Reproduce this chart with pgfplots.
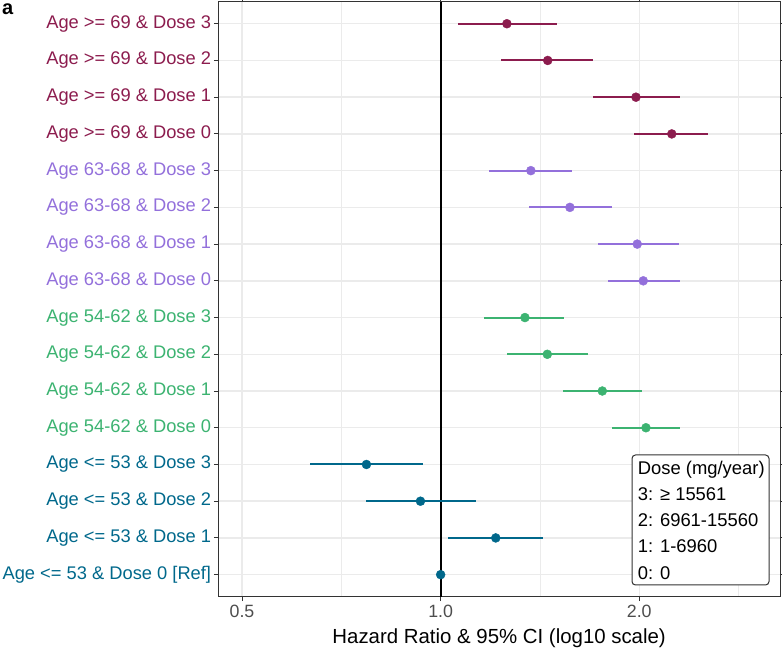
\documentclass[border=0pt]{standalone}
\usepackage{pgfplots}
\usepackage{pgfplotstable}
\usepackage{fontspec}
\setmainfont{Liberation Sans}
\pgfplotsset{compat=1.18}

\definecolor{cmaroon}{HTML}{8C1C4E}
\definecolor{cpurple}{HTML}{9370DB}
\definecolor{cgreen}{HTML}{3CB371}
\definecolor{cblue}{HTML}{00688B}
\definecolor{grid92}{HTML}{EBEBEB}
\definecolor{grey20}{HTML}{333333}
\definecolor{grey30}{HTML}{4D4D4D}

% y = row, hr = hazard ratio, lo/hi = 95% CI
\pgfplotstableread{
y hr lo hi
1 1.000 1.000 1.000
2 1.212 1.025 1.431
3 0.932 0.772 1.131
4 0.772 0.634 0.941
}\tblue
\pgfplotstableread{
y hr lo hi
5 2.047 1.820 2.308
6 1.758 1.532 2.017
7 1.451 1.262 1.670
8 1.342 1.162 1.539
}\tgreen
\pgfplotstableread{
y hr lo hi
9  2.028 1.791 2.308
10 1.986 1.732 2.295
11 1.570 1.362 1.818
12 1.370 1.184 1.580
}\tpurple
\pgfplotstableread{
y hr lo hi
13 2.240 1.961 2.545
14 1.977 1.702 2.308
15 1.453 1.233 1.700
16 1.260 1.063 1.499
}\tmaroon

\pgfplotsset{
  ci/.style={draw=none, mark=none, forget plot,
    error bars/.cd, x dir=both, x explicit, error mark=none,
    error bar style={line width=2bp, color=#1}},
  pt/.style={only marks, mark=*, mark size=4.5bp, color=#1, forget plot},
}

\begin{document}
\begin{tikzpicture}
\begin{axis}[
  at={(0,0)}, anchor=south west,
  scale only axis,
  width=561.7bp, height=595bp,
  xmode=log,
  xmin=0.4603, xmax=3.268,
  ymin=0.4, ymax=16.6,
  xtick={0.5,1,2},
  xticklabels={0.5,1.0,2.0},
  minor xtick={0.7071,1.4142,2.8284},
  ytick={1,...,16},
  yticklabels={
    {\textcolor{cblue}{Age <= 53 \& Dose 0 [Ref]}},
    {\textcolor{cblue}{Age <= 53 \& Dose 1}},
    {\textcolor{cblue}{Age <= 53 \& Dose 2}},
    {\textcolor{cblue}{Age <= 53 \& Dose 3}},
    {\textcolor{cgreen}{Age 54-62 \& Dose 0}},
    {\textcolor{cgreen}{Age 54-62 \& Dose 1}},
    {\textcolor{cgreen}{Age 54-62 \& Dose 2}},
    {\textcolor{cgreen}{Age 54-62 \& Dose 3}},
    {\textcolor{cpurple}{Age 63-68 \& Dose 0}},
    {\textcolor{cpurple}{Age 63-68 \& Dose 1}},
    {\textcolor{cpurple}{Age 63-68 \& Dose 2}},
    {\textcolor{cpurple}{Age 63-68 \& Dose 3}},
    {\textcolor{cmaroon}{Age >= 69 \& Dose 0}},
    {\textcolor{cmaroon}{Age >= 69 \& Dose 1}},
    {\textcolor{cmaroon}{Age >= 69 \& Dose 2}},
    {\textcolor{cmaroon}{Age >= 69 \& Dose 3}},
  },
  xmajorgrids=true, xminorgrids=true, ymajorgrids=true,
  major grid style={color=grid92, line width=1.5bp},
  minor grid style={color=grid92, line width=0.8bp},
  tick align=outside,
  major tick length=4.5bp,
  minor tick length=0pt,
  tick style={color=grey20, line width=1bp},
  axis line style={color=grey20, line width=1bp},
  xticklabel style={font=\fontsize{17.8bp}{20bp}\selectfont, text=grey30},
  yticklabel style={font=\fontsize{18.3bp}{21bp}\selectfont, inner sep=0pt, xshift=-2.5bp},
  xlabel={Hazard Ratio \& 95\% CI (log10 scale)},
  xlabel style={font=\fontsize{20.4bp}{23bp}\selectfont, at={(rel axis cs:0.5,0)}, anchor=base, yshift=-47bp},
  /pgf/number format/assume math mode=true,
]
\addplot[black, line width=2bp, forget plot] coordinates {(1,0.4) (1,16.6)};

\addplot[ci=cblue] table[x=hr, y=y, x error plus expr=\thisrow{hi}-\thisrow{hr}, x error minus expr=\thisrow{hr}-\thisrow{lo}] {\tblue};
\addplot[ci=cgreen] table[x=hr, y=y, x error plus expr=\thisrow{hi}-\thisrow{hr}, x error minus expr=\thisrow{hr}-\thisrow{lo}] {\tgreen};
\addplot[ci=cpurple] table[x=hr, y=y, x error plus expr=\thisrow{hi}-\thisrow{hr}, x error minus expr=\thisrow{hr}-\thisrow{lo}] {\tpurple};
\addplot[ci=cmaroon] table[x=hr, y=y, x error plus expr=\thisrow{hi}-\thisrow{hr}, x error minus expr=\thisrow{hr}-\thisrow{lo}] {\tmaroon};

\addplot[pt=cblue] table[x=hr, y=y] {\tblue};
\addplot[pt=cgreen] table[x=hr, y=y] {\tgreen};
\addplot[pt=cpurple] table[x=hr, y=y] {\tpurple};
\addplot[pt=cmaroon] table[x=hr, y=y] {\tmaroon};
\end{axis}

% legend box (dose definitions)
\draw[grey20, line width=1bp, fill=white, rounded corners=3.5bp] (413.7bp,11.7bp) rectangle (550.7bp,141.7bp);
\begin{scope}[every node/.style={anchor=base west, inner sep=0pt, font=\fontsize{18.4bp}{21bp}\selectfont}]
\node at (419.4bp,122.2bp) {Dose (mg/year)};
\node at (419.4bp,96bp) {3: ≥ 15561};
\node at (419.4bp,69.7bp) {2: 6961-15560};
\node at (419.4bp,43.7bp) {1: 1-6960};
\node at (419.4bp,17.2bp) {0: 0};
\end{scope}

\node[anchor=base west, inner sep=0pt, font=\fontsize{20bp}{24bp}\selectfont\bfseries] at (-216.3bp,581.7bp) {a};

\pgfresetboundingbox
\useasboundingbox (-218.3bp,-52.3bp) rectangle (563.7bp,596.7bp);
\end{tikzpicture}
\end{document}
